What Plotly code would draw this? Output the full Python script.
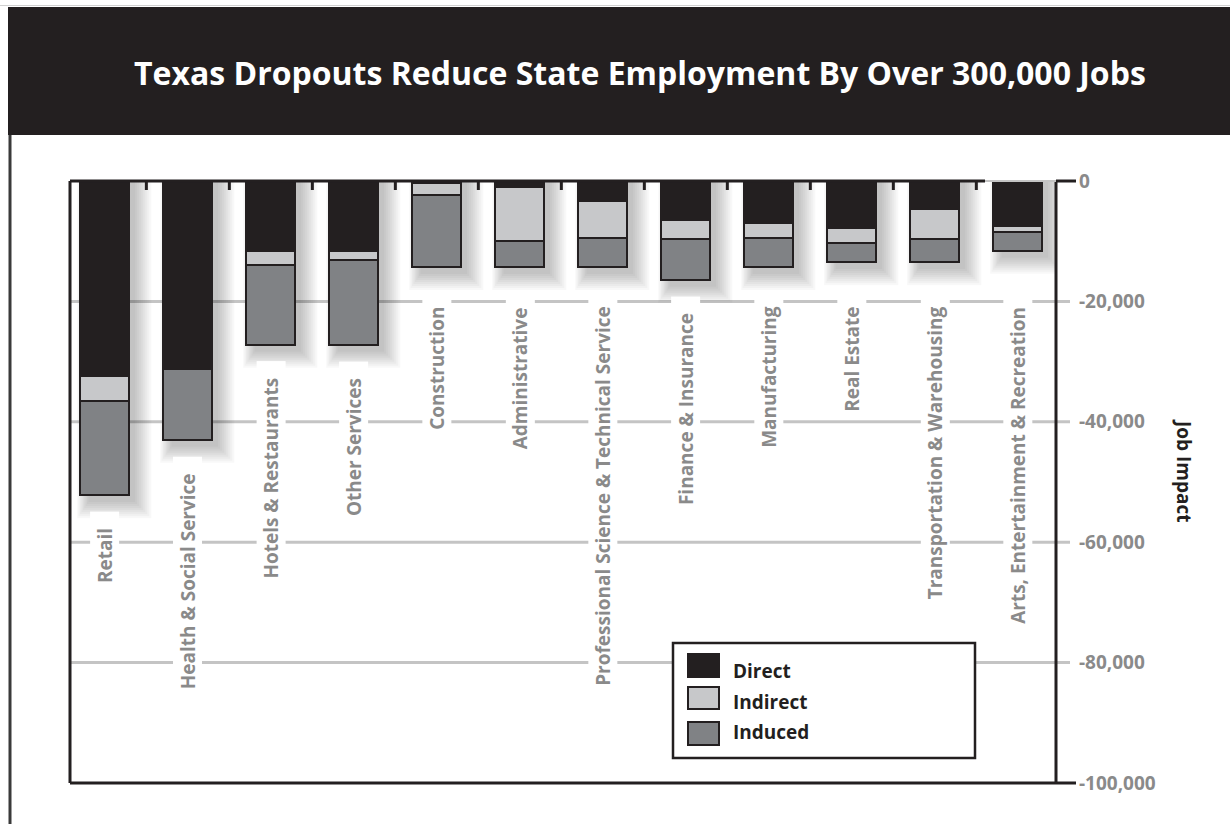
import plotly.graph_objects as go

# ---- data (jobs lost, thousands) ----
categories = [
    "Retail", "Health & Social Service", "Hotels & Restaurants", "Other Services",
    "Construction", "Administrative", "Professional Science & Technical Service",
    "Finance & Insurance", "Manufacturing", "Real Estate",
    "Transportation & Warehousing", "Arts, Entertainment & Recreation",
]
direct = [32.4, 31.2, 11.7, 11.7, 0.3, 1.0, 3.4, 6.5, 6.9, 7.8, 4.7, 7.5]
indirect = [4.1, 0.0, 2.3, 1.5, 2.0, 8.9, 6.0, 3.2, 2.5, 2.5, 4.9, 0.9]
induced = [15.7, 11.8, 13.2, 14.0, 12.0, 4.4, 4.9, 6.7, 4.9, 3.2, 3.9, 3.2]
series_names = ["Direct", "Indirect", "Induced"]
tick_vals = [0, -20000, -40000, -60000, -80000, -100000]
tick_text = ["0", "-20,000", "-40,000", "-60,000", "-80,000", "-100,000"]
title_text = "Texas Dropouts Reduce State Employment By Over 300,000 Jobs"
axis_title = "Job Impact"

# ---- styling ----
W, H = 1230, 824
L, R, T, B = 70, 1056, 181, 783           # plot area in pixels
XR = [-0.42, 11.46]
YR = [-100000, 0]
BAR_W = 0.59
C_DIRECT, C_INDIRECT, C_INDUCED = "#231f20", "#c7c8ca", "#808285"
EDGE = "#231f20"
GRID = "#c4c4c4"
LABEL_GRAY = "#8a8a8a"
FONT = "Open Sans"

ux = (XR[1] - XR[0]) / (R - L)            # category units per px
uy = (YR[1] - YR[0]) / (B - T)            # value units per px


def px_x(px):
    return (px - L) / (R - L)


def px_y(py):
    return (B - py) / (B - T)


def val_y(v):
    return (v - YR[0]) / (YR[1] - YR[0])


idx = list(range(len(categories)))
totals = [d + i + n for d, i, n in zip(direct, indirect, induced)]

fig = go.Figure()
for name, vals, col in zip(series_names, [direct, indirect, induced],
                           [C_DIRECT, C_INDIRECT, C_INDUCED]):
    fig.add_trace(go.Bar(
        x=idx, y=[-v * 1000 for v in vals], name=name, width=BAR_W,
        marker=dict(color=col, line=dict(color=EDGE, width=2.5)),
        showlegend=False,
    ))

shapes = []

# soft drop shadows behind each bar
for i, tot in enumerate(totals):
    for r in range(0, 18, 2):
        shapes.append(dict(
            type="rect", xref="x", yref="y", layer="below",
            x0=i - BAR_W / 2 + (8 - r * 0.7) * ux, x1=i + BAR_W / 2 + (6 + r) * ux,
            y0=0, y1=-tot * 1000 - (7 + r) * uy,
            fillcolor="rgba(0,0,0,0.027)", line=dict(width=0),
        ))

# horizontal grid lines, running past the right axis
for v in tick_vals[1:-1]:
    shapes.append(dict(type="line", xref="paper", yref="paper", layer="below",
                       x0=0, x1=px_x(1070), y0=val_y(v), y1=val_y(v),
                       line=dict(color=GRID, width=3)))

# header band and outer border
shapes += [
    dict(type="rect", xref="paper", yref="paper", x0=px_x(8), x1=px_x(1232),
         y0=px_y(135), y1=px_y(7), fillcolor="#231f20", line=dict(width=0)),
    dict(type="line", xref="paper", yref="paper", x0=px_x(0), x1=px_x(1232),
         y0=px_y(5.5), y1=px_y(5.5), line=dict(color="#d0d0d0", width=1)),
    dict(type="line", xref="paper", yref="paper", x0=px_x(10), x1=px_x(10),
         y0=px_y(135), y1=px_y(826), line=dict(color="#3a3a3a", width=3)),
]

# plot frame: left, bottom, right axis, top edge
shapes += [
    dict(type="line", xref="paper", yref="paper", x0=0, x1=0,
         y0=0, y1=1, line=dict(color=EDGE, width=3)),
    dict(type="line", xref="paper", yref="paper", x0=0, x1=px_x(1076),
         y0=0, y1=0, line=dict(color=EDGE, width=3)),
    dict(type="line", xref="paper", yref="paper", x0=1, x1=1,
         y0=0, y1=1, line=dict(color=EDGE, width=3)),
    dict(type="line", xref="paper", yref="paper", x0=px_x(985), x1=px_x(1068),
         y0=1, y1=1, line=dict(color=GRID, width=2)),
    dict(type="line", xref="paper", yref="paper", x0=0, x1=px_x(985),
         y0=1, y1=1, line=dict(color=EDGE, width=3)),
    dict(type="line", xref="paper", yref="paper", x0=1, x1=px_x(1076),
         y0=1, y1=1, line=dict(color=EDGE, width=3)),
]
# short ticks hanging from the top edge between categories
for k in range(len(categories) - 1):
    shapes.append(dict(type="line", xref="x", yref="paper",
                       x0=k + 0.5, x1=k + 0.5, y0=1, y1=px_y(T + 9),
                       line=dict(color=EDGE, width=3)))

# legend box and swatches
leg_rows = [(654, 677, 671), (687, 709, 702), (722, 745, 732)]
shapes.append(dict(type="rect", xref="paper", yref="paper",
                   x0=px_x(673), x1=px_x(975), y0=px_y(758), y1=px_y(643),
                   fillcolor="white", line=dict(color=EDGE, width=2.5)))
annotations = []
for name, col, (t0, t1, ty) in zip(series_names,
                                   [C_DIRECT, C_INDIRECT, C_INDUCED], leg_rows):
    shapes.append(dict(type="rect", xref="paper", yref="paper",
                       x0=px_x(688), x1=px_x(719), y0=px_y(t1), y1=px_y(t0),
                       fillcolor=col, line=dict(color=EDGE, width=2)))
    annotations.append(dict(
        xref="paper", yref="paper", x=px_x(731), y=px_y(ty), text=name,
        showarrow=False, xanchor="left", yanchor="middle",
        font=dict(family=FONT, size=19, color="#231f20", weight="bold")))

# rotated category labels under each bar, on white boxes over the grid
for i, (cat, tot) in enumerate(zip(categories, totals)):
    top = min(-tot * 1000 - 16 * uy, -(290 - T) * uy)
    annotations.append(dict(
        x=i, y=top, xref="x", yref="y", text=cat + "\u00a0" * 3,
        textangle=-90, showarrow=False, xanchor="center", yanchor="top",
        bgcolor="white", borderpad=1,
        font=dict(family=FONT, size=19, color=LABEL_GRAY, weight="bold")))

annotations += [
    dict(xref="paper", yref="paper", x=px_x(640), y=px_y(72), text=title_text,
         showarrow=False, xanchor="center", yanchor="middle",
         font=dict(family=FONT, size=32, color="white", weight="bold")),
    dict(xref="paper", yref="paper", x=px_x(1184), y=px_y(470), text=axis_title,
         textangle=90, showarrow=False, xanchor="center", yanchor="middle",
         font=dict(family=FONT, size=19, color="#231f20", weight="bold")),
]

fig.update_layout(
    width=W, height=H,
    margin=dict(l=L, r=W - R, t=T, b=H - B, pad=0),
    paper_bgcolor="white", plot_bgcolor="rgba(0,0,0,0)",
    barmode="stack", bargap=0,
    shapes=shapes, annotations=annotations,
    xaxis=dict(range=XR, showgrid=False, zeroline=False, showline=False,
               showticklabels=False, ticks=""),
    yaxis=dict(range=YR, side="right", showgrid=False, zeroline=False,
               showline=False, ticks="", tickvals=tick_vals, ticktext=tick_text,
               ticklabelstandoff=22,
               tickfont=dict(family=FONT, size=19, color=LABEL_GRAY, weight="bold")),
)

fig.write_html("out.html")
